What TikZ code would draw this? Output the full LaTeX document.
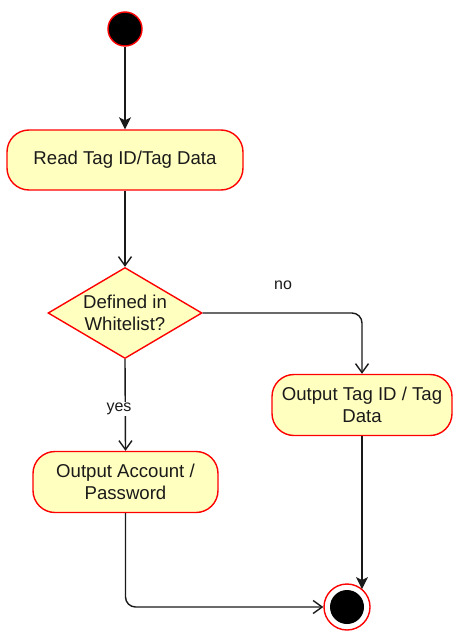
\documentclass[tikz,border=0pt]{standalone}
\usepackage{fontspec}
\setmainfont{Liberation Sans}
\usetikzlibrary{arrows.meta,shapes.geometric}

\definecolor{actfill}{HTML}{FFFFC0}
\definecolor{actline}{HTML}{FF0000}
\definecolor{wire}{HTML}{1A1A1A}

\tikzset{
  activity/.style={draw=actline, fill=actfill, line width=1.4pt, rounded corners=22pt,
    align=center, font=\fontsize{18.6}{22}\selectfont, text=wire, inner sep=0pt},
  decision/.style={diamond, draw=actline, fill=actfill, line width=1.4pt,
    minimum width=154pt, minimum height=91pt, inner sep=0pt},
  initstate/.style={circle, draw=actline, fill=black, line width=1.4pt,
    minimum size=34pt, inner sep=0pt},
  finalstate/.style={circle, draw=actline, fill=white, line width=1.4pt,
    minimum size=46pt, inner sep=0pt},
  guard/.style={fill=white, inner sep=1.5pt, font=\fontsize{16}{19}\selectfont, text=wire},
  flowsolid/.style={draw=wire, line width=1.4pt, -{Stealth[length=12pt,width=12pt,inset=3pt]}},
  flowopen/.style={draw=wire, line width=1.4pt, -{Straight Barb[length=9pt,width=13pt]}},
}

\begin{document}
\begin{tikzpicture}[x=1pt,y=-1pt]
\useasboundingbox (0,0) rectangle (454,634);

% states and activities
\node[initstate] (start) at (125,29) {};
\node[activity, minimum width=236pt, minimum height=60pt] (read) at (125,160) {Read Tag ID/Tag Data};
\node[decision] (check) at (125,313) {};
\node[align=center, font=\fontsize{18.6}{22}\selectfont, text=wire, inner sep=0pt] (checktext) at (check) {Defined in\\Whitelist?};
\node[activity, minimum width=180pt, minimum height=61pt] (outtag) at (362,405) {Output Tag ID / Tag\\Data};
\node[activity, minimum width=185pt, minimum height=61pt] (outacc) at (125.5,482) {Output Account /\\Password};
\node[finalstate] (stop) at (347,607) {};
\fill[black] (stop) circle (17pt);

% control flow
\draw[flowsolid] (start) -- (read);
\draw[flowopen] (read) -- (check);
\draw[flowopen, rounded corners=10pt] (check.east) -| (outtag.north);
\node[guard] (lblno) at (283,285) {no};
\draw[flowopen] (check.south) -- (outacc.north);
\node[guard] (lblyes) at (119,409) {yes};
\draw[flowsolid] (outtag.south) -- (outtag.south |- stop.49);
\draw[flowopen, rounded corners=10pt] (outacc.south) |- (stop.west);
\end{tikzpicture}
\end{document}
